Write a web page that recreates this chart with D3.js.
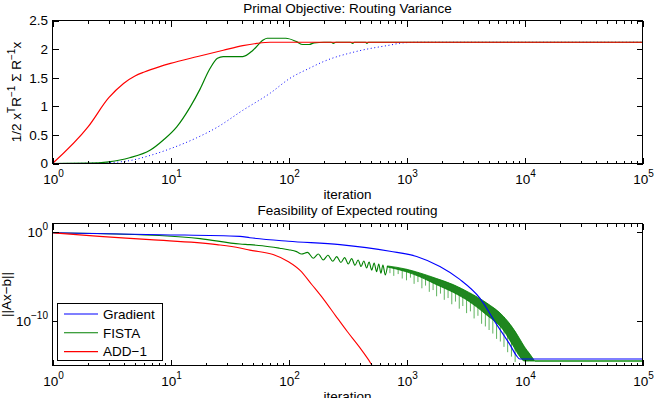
<!DOCTYPE html>
<html>
<head>
<meta charset="utf-8">
<script src="https://cdn.jsdelivr.net/npm/d3@7"></script>
<style>
  body { margin: 0; background: #fff; }
  svg { display: block; font-family: "Liberation Sans", Arial, Helvetica, sans-serif; }
</style>
</head>
<body>
<svg id="chart" width="656" height="398"></svg>
<script>
// ---- data ----
const iterTicks = [1, 10, 100, 1000, 10000, 100000];
const iterTickExp = ['0', '1', '2', '3', '4', '5'];
const objTicks = [0, 0.5, 1, 1.5, 2, 2.5];
const objTickLabels = ['0', '0.5', '1', '1.5', '2', '2.5'];
const feasTicks = [1, 1e-10];
const feasTickExp = ['0', '\u221210'];

// top: primal objective
const gradientObjIter = [1, 2, 3, 4.5, 6.7, 10, 16.7, 24.7, 41, 70, 103, 152, 197, 378, 724, 940, 1300, 100000];
const gradientObjValue = [0, 0.005, 0.015, 0.05, 0.14, 0.26, 0.45, 0.63, 0.93, 1.23, 1.49, 1.67, 1.78, 1.96, 2.07, 2.11, 2.12, 2.12];

const fistaObjIter = [1, 2, 3, 4.5, 6.7, 8.7, 11.3, 14.7, 17.8, 21.6, 25, 28, 41, 50, 61, 66, 95, 117, 132, 150, 165, 200, 230, 240, 252, 335, 350, 362, 450, 462, 475, 100000];
const fistaObjValue = [0, 0.005, 0.03, 0.1, 0.23, 0.41, 0.64, 0.99, 1.30, 1.66, 1.84, 1.87, 1.87, 1.98, 2.16, 2.19, 2.19, 2.13, 2.08, 2.08, 2.11, 2.12, 2.12, 2.10, 2.12, 2.12, 2.10, 2.12, 2.12, 2.10, 2.12, 2.12];

const addObjIter = [1, 2, 3, 4, 5, 6, 8, 10, 17, 28, 41, 54, 70, 100000];
const addObjValue = [0, 0.64, 1.15, 1.40, 1.53, 1.60, 1.69, 1.75, 1.87, 1.98, 2.06, 2.10, 2.12, 2.12];

// bottom: feasibility, stored as log10 ||Ax-b||
const gradientFeasIter = [1, 8.2, 38.8, 47, 100, 273, 724, 1219, 1919, 2830, 4169, 5800, 7499, 8511, 9120, 100000];
const gradientFeasExp = [-0.05, -0.26, -0.45, -0.6, -1.0, -1.38, -2.13, -2.72, -3.85, -5.3, -7.38, -10.37, -12.62, -13.85, -14.27, -14.27];

const fistaFeasIter = [1, 3.5, 8, 17.8, 38.8, 47, 60, 84, 100, 117, 129, 145, 162, 179, 197, 216, 237, 256, 278, 299, 321, 343, 366, 389, 412, 435, 459, 482, 507, 532, 558, 582, 607, 631, 661, 690];
const fistaFeasExp = [-0.05, -0.19, -0.36, -0.7, -1.31, -1.38, -1.5, -1.78, -1.95, -2.17, -2.44, -2.25, -2.92, -2.44, -3.11, -2.58, -3.26, -2.73, -3.40, -2.84, -3.56, -2.96, -3.71, -3.11, -3.85, -3.22, -4.01, -3.34, -4.24, -3.45, -4.42, -3.56, -4.61, -3.67, -4.80, -3.78];

// dense oscillation part of FISTA: envelope of arches + spike tips
const fistaBandIter = [690, 1000, 1297, 1799, 2483, 3443, 4764, 6607, 7943, 9120, 10000, 11092, 12218];
const fistaBandTop = [-3.78, -4.15, -4.57, -5.2, -5.88, -6.82, -7.94, -9.44, -10.75, -12.0, -12.9, -13.7, -14.5];
const fistaBandBottom = [-3.9, -4.45, -5.0, -5.9, -6.75, -7.85, -9.3, -11.0, -12.7, -14.0, -14.5, -14.5, -14.5];
const fistaSpikeIter = [724, 780, 850, 920, 1000, 1080, 1160, 1250, 1350, 1450, 1560, 1680, 1800, 1940, 2090, 2250, 2420, 2600, 2800, 3000, 3230, 3480, 3740, 4030, 4330, 4660, 5010, 5390, 5800, 6240, 6700, 7200, 7750, 8330];
const fistaSpikeTip = [-4.6, -4.9, -4.7, -5.2, -5.4, -5.1, -5.8, -5.6, -6.3, -6.0, -6.7, -6.5, -7.2, -6.9, -7.6, -7.4, -8.1, -7.8, -8.6, -8.3, -9.1, -8.9, -9.7, -9.4, -10.3, -10.6, -11.0, -11.4, -12.0, -12.3, -12.9, -13.5, -14.0, -14.6];
const fistaTailIter = [12218, 100000];
const fistaTailExp = [-14.5, -14.5];

const addFeasIter = [1, 2.5, 6.7, 24.7, 38.8, 47, 74, 100, 126, 158, 200, 251, 316, 398, 479, 519, 560];
const addFeasExp = [-0.05, -0.45, -0.82, -1.38, -1.76, -2.0, -2.5, -3.3, -4.3, -5.9, -7.6, -9.4, -11.2, -12.9, -14.4, -15.1, -15.3];

const legendNames = ['Gradient', 'FISTA', 'ADD\u22121'];
const colors = { gradient: '#0000ff', fista: '#008000', add: '#ff0000' };

// ---- layout ----
const left = 52.5;
const right = 642.5;
const topPlot = { y0: 20.5, y1: 163.5 };
const botPlot = { y0: 223.5, y1: 365.5 };
const fontSize = 13.5;

const svg = d3.select('#chart');

const x = d3.scaleLog().domain([1, 1e5]).range([left, right]);
const yObj = d3.scaleLinear().domain([0, 2.5]).range([topPlot.y1, topPlot.y0]);
const yFeas = d3.scaleLog().domain([1e-15, 10]).range([botPlot.y1, botPlot.y0]);

const minorIter = [];
for (let d = 1; d < 1e5; d *= 10) {
  for (let k = 2; k <= 9; k++) minorIter.push(k * d);
}

const zip = (a, b) => a.map((v, i) => [v, b[i]]);
const pow = (e) => Math.pow(10, e);

// clip paths
const defs = svg.append('defs');
defs.append('clipPath').attr('id', 'clipTop')
  .append('rect').attr('x', left).attr('y', topPlot.y0)
  .attr('width', right - left).attr('height', topPlot.y1 - topPlot.y0);
defs.append('clipPath').attr('id', 'clipBot')
  .append('rect').attr('x', left).attr('y', botPlot.y0)
  .attr('width', right - left).attr('height', botPlot.y1 - botPlot.y0);

const addTicks = (box, yScale, yTickValues) => {
  const g = svg.append('g');
  const strip = (sel) => { sel.select('.domain').remove(); sel.selectAll('text').remove(); sel.selectAll('line').attr('stroke', '#000'); };
  g.append('g').attr('transform', `translate(0,${box.y1})`)
    .call(d3.axisBottom(x).tickValues(iterTicks).tickSize(-6).tickSizeOuter(0)).call(strip);
  g.append('g').attr('transform', `translate(0,${box.y1})`)
    .call(d3.axisBottom(x).tickValues(minorIter).tickSize(-3).tickSizeOuter(0)).call(strip);
  g.append('g').attr('transform', `translate(0,${box.y0})`)
    .call(d3.axisTop(x).tickValues(iterTicks).tickSize(-6).tickSizeOuter(0)).call(strip);
  g.append('g').attr('transform', `translate(0,${box.y0})`)
    .call(d3.axisTop(x).tickValues(minorIter).tickSize(-3).tickSizeOuter(0)).call(strip);
  g.append('g').attr('transform', `translate(${left},0)`)
    .call(d3.axisLeft(yScale).tickValues(yTickValues).tickSize(-6).tickSizeOuter(0)).call(strip);
  g.append('g').attr('transform', `translate(${right},0)`)
    .call(d3.axisRight(yScale).tickValues(yTickValues).tickSize(-6).tickSizeOuter(0)).call(strip);
  g.selectAll('.tick').attr('shape-rendering', 'crispEdges');
  svg.append('rect')
    .attr('x', left).attr('y', box.y0)
    .attr('width', right - left).attr('height', box.y1 - box.y0)
    .attr('fill', 'none').attr('stroke', '#000').attr('stroke-width', 1)
    .attr('shape-rendering', 'crispEdges');
};

const powLabel = (sel, base, exp) => {
  sel.append('tspan').text(base);
  sel.append('tspan').attr('dy', -7).attr('font-size', 10).text(exp);
};

const addIterLabels = (box, labelY, axisLabelY) => {
  iterTicks.forEach((t, i) => {
    svg.append('text')
      .attr('x', x(t) + 1).attr('y', labelY)
      .attr('text-anchor', 'middle').attr('font-size', fontSize)
      .call(powLabel, '10', iterTickExp[i]);
  });
  svg.append('text')
    .attr('x', (left + right) / 2).attr('y', axisLabelY)
    .attr('text-anchor', 'middle').attr('font-size', fontSize)
    .text('iteration');
};

// ---- top plot ----
const objLine = d3.line().x((d) => x(d[0])).y((d) => yObj(d[1])).curve(d3.curveMonotoneX);
const topG = svg.append('g').attr('clip-path', 'url(#clipTop)');

topG.append('path')
  .attr('d', objLine(zip(gradientObjIter, gradientObjValue)))
  .attr('fill', 'none').attr('stroke', colors.gradient).attr('stroke-width', 1)
  .attr('stroke-dasharray', '1,2.6');
topG.append('path')
  .attr('d', objLine(zip(fistaObjIter, fistaObjValue)))
  .attr('fill', 'none').attr('stroke', colors.fista).attr('stroke-width', 1.2);
topG.append('path')
  .attr('d', objLine(zip(addObjIter, addObjValue)))
  .attr('fill', 'none').attr('stroke', colors.add).attr('stroke-width', 1.2);

addTicks(topPlot, yObj, objTicks);

objTicks.forEach((t, i) => {
  svg.append('text')
    .attr('x', 48).attr('y', yObj(t)).attr('dy', '0.36em')
    .attr('text-anchor', 'end').attr('font-size', fontSize)
    .text(objTickLabels[i]);
});
addIterLabels(topPlot, 184, 199);

svg.append('text')
  .attr('x', (left + right) / 2).attr('y', 13)
  .attr('text-anchor', 'middle').attr('font-size', fontSize)
  .text('Primal Objective: Routing Variance');

const yLab = svg.append('text')
  .attr('transform', `translate(20.5,${(topPlot.y0 + topPlot.y1) / 2}) rotate(-90)`)
  .attr('text-anchor', 'middle').attr('font-size', fontSize);
yLab.append('tspan').text('1/2 x');
yLab.append('tspan').attr('dy', -6).attr('font-size', 10).text('T');
yLab.append('tspan').attr('dy', 6).text('R');
yLab.append('tspan').attr('dy', -6).attr('font-size', 10).text('\u22121');
yLab.append('tspan').attr('dy', 6).text(' \u03A3 R');
yLab.append('tspan').attr('dy', -6).attr('font-size', 10).text('\u22121');
yLab.append('tspan').attr('dy', 6).text('x');

// ---- bottom plot ----
const feasLine = d3.line().x((d) => x(d[0])).y((d) => yFeas(pow(d[1]))).curve(d3.curveMonotoneX);
const botG = svg.append('g').attr('clip-path', 'url(#clipBot)');

const bandTopAt = d3.scaleLog().domain(fistaBandIter).range(fistaBandTop);

botG.append('g').selectAll('line')
  .data(zip(fistaSpikeIter, fistaSpikeTip))
  .join('line')
  .attr('x1', (d) => x(d[0])).attr('x2', (d) => x(d[0]))
  .attr('y1', (d) => yFeas(pow(bandTopAt(d[0]))))
  .attr('y2', (d) => yFeas(pow(d[1])))
  .attr('stroke', '#5fb35f').attr('stroke-width', 1);

const bandArea = d3.area()
  .x((d) => x(d[0]))
  .y0((d) => yFeas(pow(d[2])))
  .y1((d) => yFeas(pow(d[1])))
  .curve(d3.curveMonotoneX);
botG.append('path')
  .attr('d', bandArea(fistaBandIter.map((v, i) => [v, fistaBandTop[i], fistaBandBottom[i]])))
  .attr('fill', '#1f861f').attr('stroke', colors.fista).attr('stroke-width', 0.8);

botG.append('path')
  .attr('d', feasLine(zip(fistaFeasIter, fistaFeasExp)))
  .attr('fill', 'none').attr('stroke', colors.fista).attr('stroke-width', 1.1);
botG.append('path')
  .attr('d', feasLine(zip(fistaTailIter, fistaTailExp)))
  .attr('fill', 'none').attr('stroke', '#4aa84a').attr('stroke-width', 2);

botG.append('path')
  .attr('d', feasLine(zip(gradientFeasIter, gradientFeasExp)))
  .attr('fill', 'none').attr('stroke', colors.gradient).attr('stroke-width', 1.1);
botG.append('path')
  .attr('d', feasLine(zip(addFeasIter, addFeasExp)))
  .attr('fill', 'none').attr('stroke', colors.add).attr('stroke-width', 1.1);

addTicks(botPlot, yFeas, feasTicks);

feasTicks.forEach((t, i) => {
  svg.append('text')
    .attr('x', 48).attr('y', yFeas(t) + 5)
    .attr('text-anchor', 'end').attr('font-size', fontSize)
    .call(powLabel, '10', feasTickExp[i]);
});
addIterLabels(botPlot, 386, 401);

svg.append('text')
  .attr('x', (left + right) / 2).attr('y', 215)
  .attr('text-anchor', 'middle').attr('font-size', fontSize)
  .text('Feasibility of Expected routing');

svg.append('text')
  .attr('transform', `translate(11,${(botPlot.y0 + botPlot.y1) / 2}) rotate(-90)`)
  .attr('text-anchor', 'middle').attr('font-size', fontSize)
  .text('||Ax\u2212b||');

// legend
const legend = svg.append('g');
legend.append('rect')
  .attr('x', 57.5).attr('y', 303.5).attr('width', 105).attr('height', 57)
  .attr('fill', '#fff').attr('stroke', '#000').attr('stroke-width', 1)
  .attr('shape-rendering', 'crispEdges');
const legendColors = [colors.gradient, colors.fista, colors.add];
legendNames.forEach((name, i) => {
  const ly = 314 + i * 18.8;
  legend.append('line')
    .attr('x1', 64).attr('x2', 98).attr('y1', ly).attr('y2', ly)
    .attr('stroke', legendColors[i]).attr('stroke-width', 1.1);
  legend.append('text')
    .attr('x', 103).attr('y', ly).attr('dy', '0.36em')
    .attr('font-size', fontSize).text(name);
});
</script>
</body>
</html>
